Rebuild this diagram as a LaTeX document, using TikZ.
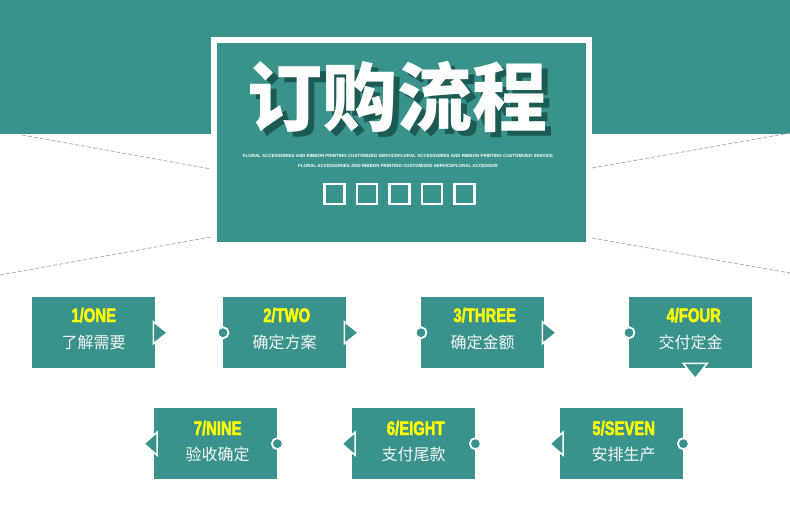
\documentclass[tikz,border=0pt]{standalone}
\usepackage{fontspec}
\setmainfont{Liberation Sans}
\newfontfamily\cjk{Noto Sans CJK SC}
\newfontfamily\numfont{Liberation Sans}[FakeStretch=0.76, FakeBold=2.2]
\usepackage{tikz}
\usetikzlibrary{calc}
\definecolor{flowteal}{RGB}{57,146,139}
\definecolor{flowshadow}{RGB}{28,90,84}
\definecolor{flowyellow}{RGB}{255,255,0}
\definecolor{flowgray}{RGB}{175,175,175}

\begin{document}
\begin{tikzpicture}[x=1pt, y=-1pt,
        stepbox/.style={fill=flowteal, minimum width=123pt, minimum height=71pt, inner sep=0pt, anchor=north west},
        numlabel/.style={font=\numfont\bfseries\fontsize{19.5}{20}\selectfont, text=flowyellow, anchor=base},
        steplabel/.style={font=\cjk\fontsize{16}{18}\selectfont, text=white!94!gray, anchor=base},
        tipmark/.style={fill=flowteal, draw=white, line width=1.5pt},
        dotmark/.style={circle, fill=flowteal, draw=white, line width=1.8pt, minimum size=11pt, inner sep=0pt},
        checkbox/.style={draw=white, line width=2.5pt, minimum size=20pt, inner sep=0pt},
        guide/.style={draw=flowgray, line width=0.8pt, dash pattern=on 4pt off 2pt},
        tiny/.style={font=\bfseries\fontsize{4.45}{5}\selectfont, text=white, anchor=base}
    ]
        \fill[white] (0,0) rectangle (790,509);
        \useasboundingbox (0,0) rectangle (790,509);

        % Header band and frame
        \fill[flowteal] (0,0) rectangle (790,134);
        \fill[white] (211,37) rectangle (592,247);
        \fill[flowteal] (217,43) rectangle (586,242);

        % Dashed guides
        \draw[guide] (22,135) -- (211,169);
        \draw[guide] (0,275) -- (211,237);
        \draw[guide] (592,168) -- (790,133);
        \draw[guide] (592,238) -- (790,273);

        % Title
        \node[font=\cjk\bfseries\fontsize{75}{80}\selectfont, text=flowshadow, anchor=base] (title-shadow) at (403,130) {订购流程};
        \node[font=\cjk\bfseries\fontsize{75}{80}\selectfont, text=white, anchor=base] (title) at (397,125) {订购流程};
        \node[tiny] (sub1) at (398,157) {FLORAL ACCESSORIES AND RIBBON PRINTING CUSTOMIZED SERVICEFLORAL ACCESSORIES AND RIBBON PRINTING CUSTOMIZED SERVICE};
        \node[tiny] (sub2) at (398,167) {FLORAL ACCESSORIES AND RIBBON PRINTING CUSTOMIZED SERVICEFLORAL ACCESSOR};
        \foreach \i in {0,...,4}
            \node[checkbox] (sq\i) at ({334.5+32.5*\i},194.2) {};

        % Step 1
        \node[stepbox] (one) at (32,297) {};
        \node[numlabel] (one-num) at ($(one.north)+(0,25)$) {1/ONE};
        \node[steplabel] (one-txt) at ($(one.north)+(0,51)$) {了解需要};
        \draw[tipmark] ($(one.east)+(-2,-11)$) -- ($(one.east)+(12,0)$) -- ($(one.east)+(-2,11)$) -- cycle;

        % Step 2
        \node[stepbox] (two) at (223,297) {};
        \node[numlabel] (two-num) at ($(two.north)+(2,25)$) {2/TWO};
        \node[steplabel] (two-txt) at ($(two.north)+(0,51)$) {确定方案};
        \node[dotmark] (two-in) at (two.west) {};
        \draw[tipmark] ($(two.east)+(-2,-11)$) -- ($(two.east)+(12,0)$) -- ($(two.east)+(-2,11)$) -- cycle;

        % Step 3
        \node[stepbox] (three) at (421,297) {};
        \node[numlabel] (three-num) at ($(three.north)+(2,25)$) {3/THREE};
        \node[steplabel] (three-txt) at ($(three.north)+(0,51)$) {确定金额};
        \node[dotmark] (three-in) at (three.west) {};
        \draw[tipmark] ($(three.east)+(-2,-11)$) -- ($(three.east)+(12,0)$) -- ($(three.east)+(-2,11)$) -- cycle;

        % Step 4
        \node[stepbox] (four) at (629,297) {};
        \node[numlabel] (four-num) at ($(four.north)+(3,25)$) {4/FOUR};
        \node[steplabel] (four-txt) at ($(four.north)+(0,51)$) {交付定金};
        \node[dotmark] (four-in) at (four.west) {};
        \draw[tipmark] ($(four.south)+(-7.5,-5)$) -- ($(four.south)+(4.5,10)$) -- ($(four.south)+(16.5,-5)$) -- cycle;

        % Step 5
        \node[stepbox] (five) at (560,408) {};
        \node[numlabel] (five-num) at ($(five.north)+(2,27)$) {5/SEVEN};
        \node[steplabel] (five-txt) at ($(five.north)+(2,52)$) {安排生产};
        \node[dotmark] (five-out) at (five.east) {};
        \draw[tipmark] ($(five.west)+(3,-11.5)$) -- ($(five.west)+(-10,0)$) -- ($(five.west)+(3,11.5)$) -- cycle;

        % Step 6
        \node[stepbox] (six) at (352,408) {};
        \node[numlabel] (six-num) at ($(six.north)+(2,27)$) {6/EIGHT};
        \node[steplabel] (six-txt) at ($(six.north)+(0,52)$) {支付尾款};
        \node[dotmark] (six-out) at (six.east) {};
        \draw[tipmark] ($(six.west)+(3,-11.5)$) -- ($(six.west)+(-10,0)$) -- ($(six.west)+(3,11.5)$) -- cycle;

        % Step 7
        \node[stepbox] (seven) at (154,408) {};
        \node[numlabel] (seven-num) at ($(seven.north)+(2,27)$) {7/NINE};
        \node[steplabel] (seven-txt) at ($(seven.north)+(2,52)$) {验收确定};
        \node[dotmark] (seven-out) at (seven.east) {};
        \draw[tipmark] ($(seven.west)+(3,-11.5)$) -- ($(seven.west)+(-10,0)$) -- ($(seven.west)+(3,11.5)$) -- cycle;

    \end{tikzpicture}
\end{document}
